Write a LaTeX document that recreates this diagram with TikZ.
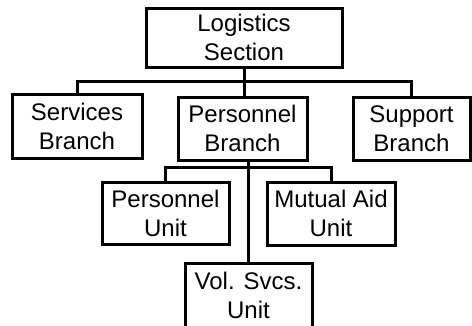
\documentclass[tikz,border=0pt]{standalone}
\usepackage{fontspec}
\setmainfont{Liberation Sans}
\begin{document}
\begin{tikzpicture}[x=1pt,y=-1pt,
  orgbox/.style={draw, line width=3pt, inner sep=0pt, align=center,
    font=\fontsize{24}{29}\selectfont},
  link/.style={line width=3pt}]
  \useasboundingbox (0,0) rectangle (472,325);
  \clip (0,0) rectangle (472,325);
  % boxes
  \node[orgbox, minimum width=196, minimum height=59] (log) at (244,37.5) {Logistics\\Section};
  \node[orgbox, minimum width=130, minimum height=64] (svc) at (77,126) {Services\\Branch};
  \node[orgbox, minimum width=129, minimum height=63] (pb) at (242.5,128.5) {Personnel\\Branch};
  \node[orgbox, minimum width=117, minimum height=63] (sup) at (411.5,128.5) {Support\\Branch};
  \node[orgbox, minimum width=127, minimum height=62] (pu) at (165.5,213) {Personnel\\Unit};
  \node[orgbox, minimum width=128, minimum height=63] (ma) at (331,213.5) {Mutual Aid\\Unit};
  \node[orgbox, minimum width=127, minimum height=64] (vol) at (248.5,295) {Vol. Svcs.\\Unit};
  % bus levels
  \coordinate (b1) at (log.south |- 0,81);
  \coordinate (b2) at (vol.north |- 0,167);
  % connectors
  \draw[link] (log.south) -- (log.south |- pb.north);
  \draw[link] (svc.north) |- (b1) -| (sup.north);
  \draw[link] (vol.north) -- (vol.north |- pb.south);
  \draw[link] (pu.north) |- (b2) -| (ma.north);
\end{tikzpicture}
\end{document}
